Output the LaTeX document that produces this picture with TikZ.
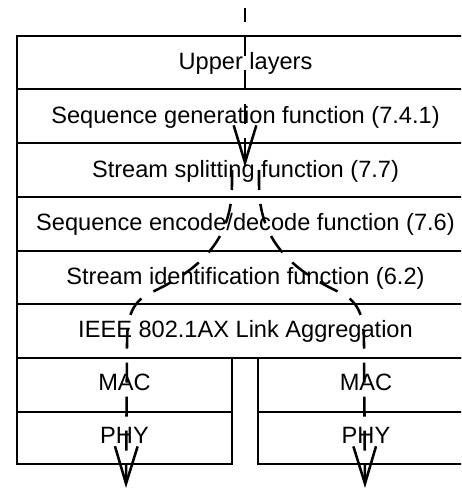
\documentclass[tikz,border=0pt]{standalone}
\usepackage{fontspec}
\setmainfont{Liberation Sans}
\usetikzlibrary{arrows.meta}
\newcommand{\lbl}       {\fontsize{17.7}{21}\selectfont}
\tikzset{
  lyr/.style={font=\lbl,text height=12.7pt,text depth=0pt,inner sep=0pt},
  flow/.style={line width=1.9pt,dash pattern=on 15pt off 10.5pt,
    -{Straight Barb[length=28pt,width=17pt,line width=1.9pt]}},
}

\begin{document}
\begin{tikzpicture}[x=0.75pt,y=-0.75pt,line width=1.6pt]
   \useasboundingbox (0,0) rectangle (461,491);
   \clip (0,0) rectangle (461,491);
   % layer stack
   \draw (17,36) rectangle (474,358);
   \draw (17,89) -- (474,89);
   \draw (17,143) -- (474,143);
   \draw (17,197) -- (474,197);
   \draw (17,251) -- (474,251);
   \draw (17,304) -- (474,304);
   \draw (17,358) rectangle (232,464);
   \draw (17,412) -- (232,412);
   \draw (258,358) rectangle (474,464);
   \draw (258,412) -- (474,412);
   \draw (245.5,61) node[lyr] (upper) {Upper layers};
   \draw (245.5,115) node[lyr] (seqgen) {Sequence generation function (7.4.1)};
   \draw (245.5,169) node[lyr] (split) {Stream splitting function (7.7)};
   \draw (245.5,222) node[lyr] (seqenc) {Sequence encode/decode function (7.6)};
   \draw (245.5,276) node[lyr] (streamid) {Stream identification function (6.2)};
   \draw (245.5,329) node[lyr] (lag) {IEEE 802.1AX Link Aggregation};
   \draw (124.5,382) node[lyr] (macA) {MAC};
   \draw (124.5,435.5) node[lyr] (phyA) {PHY};
   \draw (366,382) node[lyr] (macB) {MAC};
   \draw (366,435.5) node[lyr] (phyB) {PHY};
   % data flow
   \coordinate (src) at (245,8);
   \coordinate (tip) at (245,167);
   \coordinate (inA) at (232,170);
   \coordinate (inB) at (259,170);
   \coordinate (outA) at (126,488);
   \coordinate (outB) at (365,488);
   \draw[flow,dash phase=4.5pt] (src) -- (tip);
   \draw[flow] (inA) -- (232,185) .. controls (232,240) and (200,270) .. (150,293)
      .. controls (130,303) and (127,320) .. (127,345) -- (outA);
   \draw[flow] (inB) -- (259,185) .. controls (259,240) and (291,270) .. (341,293)
      .. controls (361,303) and (364,320) .. (364,345) -- (outB);
\end{tikzpicture}
\end{document}
